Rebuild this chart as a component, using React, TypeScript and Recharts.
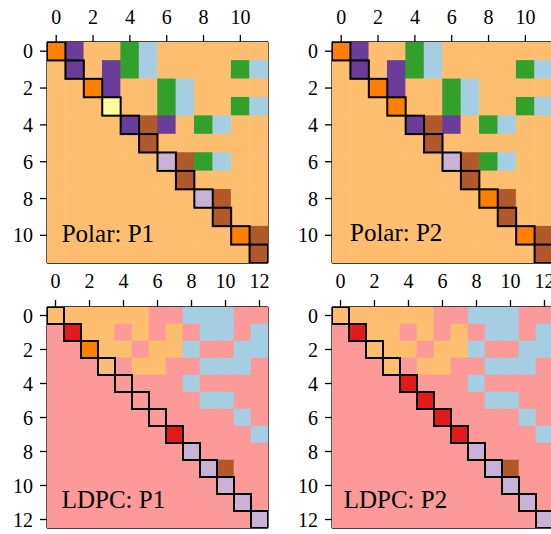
import React from "react";
import { ScatterChart, Scatter, XAxis, YAxis } from "recharts";

// Colour codes (ColorBrewer "Paired")
const COLORS: Record<string, string> = {
  L: "#fdbf6f", // light orange
  O: "#ff7f00", // orange
  P: "#6a3d9a", // purple
  G: "#33a02c", // green
  B: "#a6cee3", // light blue
  Y: "#ffff99", // yellow
  N: "#b15928", // brown
  V: "#cab2d6", // lavender
  K: "#fb9a99", // pink
  R: "#e31a1c", // red
};

const polarP1Rows = [
  "OPLLGBLLLLLL",
  "LPLPGBLLLLGB",
  "LLOPLLGBLLLL",
  "LLLYLLGBLLGB",
  "LLLLPNPLGBLL",
  "LLLLLNLLLLLL",
  "LLLLLLVNGBLL",
  "LLLLLLLNLLLL",
  "LLLLLLLLVNLL",
  "LLLLLLLLLNLL",
  "LLLLLLLLLLON",
  "LLLLLLLLLLLN",
];

const polarP2Rows = [
  "OPLLGBLLLLLL",
  "LPLPGBLLLLGB",
  "LLOPLLGBLLLL",
  "LLLOLLGBLLGB",
  "LLLLPNPLGBLL",
  "LLLLLNLLLLLL",
  "LLLLLLVNGBLL",
  "LLLLLLLNLLLL",
  "LLLLLLLLONLL",
  "LLLLLLLLLNLL",
  "LLLLLLLLLLON",
  "LLLLLLLLLLLN",
];

const ldpcP1Rows = [
  "LLLLLLKKBBBKK",
  "KRLLKLKLKBBKB",
  "KKOLLKLLBKKBB",
  "KKKLKLLKKBBBK",
  "KKKKKKKKBKKKK",
  "KKKKKKKKKBBKK",
  "KKKKKKKKKKKBK",
  "KKKKKKKRKKKKB",
  "KKKKKKKKVKKKK",
  "KKKKKKKKKVNKK",
  "KKKKKKKKKKVKK",
  "KKKKKKKKKKKVK",
  "KKKKKKKKKKKKV",
];

const ldpcP2Rows = [
  "LLLLLLKKBBBKK",
  "KRLLKLKLKBBKB",
  "KKLLLKLLBKKBB",
  "KKKLKLLKKBBBK",
  "KKKKRKKKBKKKK",
  "KKKKKRKKKBBKK",
  "KKKKKKRKKKKBK",
  "KKKKKKKRKKKKB",
  "KKKKKKKKVKKKK",
  "KKKKKKKKKVNKK",
  "KKKKKKKKKKVKK",
  "KKKKKKKKKKKVK",
  "KKKKKKKKKKKKV",
];

const polarTicks = [0, 2, 4, 6, 8, 10];
const ldpcTicks = [0, 2, 4, 6, 8, 10, 12];

const panelLabels = ["Polar: P1", "Polar: P2", "LDPC: P1", "LDPC: P2"];

type CellDatum = { x: number; y: number; code: string };

function toCells(rows: string[]): CellDatum[] {
  const out: CellDatum[] = [];
  rows.forEach((row, y) =>
    row.split("").forEach((code, x) => out.push({ x, y, code }))
  );
  return out;
}

function diagCells(rows: string[]): CellDatum[] {
  return rows.map((row, i) => ({ x: i, y: i, code: row[i] }));
}

const PLOT = 221;
const AXIS_TOP = 42;
const AXIS_LEFT = 47;
const FONT = "'Liberation Serif', 'Times New Roman', serif";

const tickStyle = { fill: "#000", fontSize: 20, fontFamily: FONT };
const lineStyle = { stroke: "#000", strokeWidth: 1.3 };

function Panel(props: {
  rows: string[];
  ticks: number[];
  left: number;
  top: number;
  labelMargin: number;
}) {
  const { rows, ticks, left, top, labelMargin } = props;
  const n = rows.length;
  const cell = PLOT / n;
  const domain: [number, number] = [-0.5, n - 0.5];
  const W = AXIS_LEFT + PLOT + 1;
  const H = AXIS_TOP + PLOT + 10;
  const cells = toCells(rows);
  const diag = diagCells(rows);

  const CellShape = (p: any) => (
    <rect
      x={p.cx - cell / 2 - 0.3}
      y={p.cy - cell / 2 - 0.3}
      width={cell + 0.6}
      height={cell + 0.6}
      fill={COLORS[p.payload.code]}
    />
  );
  const DiagShape = (p: any) => (
    <rect
      x={p.cx - cell / 2}
      y={p.cy - cell / 2}
      width={cell}
      height={cell}
      fill="none"
      stroke="#000"
      strokeWidth={2}
    />
  );

  return (
    <div style={{ position: "absolute", left, top, width: W, height: H }}>
      <ScatterChart
        width={W}
        height={H}
        margin={{ top: 0, right: 0, bottom: 0, left: 0 }}
        style={{ fontFamily: FONT }}
      >
        <Scatter
          data={cells}
          xAxisId="t"
          yAxisId="l"
          shape={CellShape}
          isAnimationActive={false}
        />
        <Scatter
          data={diag}
          xAxisId="t"
          yAxisId="l"
          shape={DiagShape}
          isAnimationActive={false}
        />
        <XAxis
          xAxisId="t"
          orientation="top"
          type="number"
          dataKey="x"
          domain={domain}
          ticks={ticks}
          allowDataOverflow
          height={AXIS_TOP}
          tickSize={7}
          tickMargin={labelMargin}
          interval={0}
          tick={tickStyle}
          axisLine={lineStyle}
          tickLine={lineStyle}
        />
        <XAxis
          xAxisId="b"
          orientation="bottom"
          type="number"
          dataKey="x"
          domain={domain}
          ticks={ticks}
          allowDataOverflow
          height={10}
          tickSize={7}
          interval={0}
          tick={false}
          axisLine={lineStyle}
          tickLine={lineStyle}
        />
        <YAxis
          yAxisId="l"
          orientation="left"
          type="number"
          dataKey="y"
          domain={domain}
          ticks={ticks}
          reversed
          allowDataOverflow
          width={AXIS_LEFT}
          tickSize={7}
          tickMargin={7}
          interval={0}
          tick={tickStyle}
          axisLine={lineStyle}
          tickLine={lineStyle}
        />
        <YAxis
          yAxisId="r"
          orientation="right"
          type="number"
          dataKey="y"
          domain={domain}
          reversed
          allowDataOverflow
          width={1}
          tick={false}
          tickLine={false}
          axisLine={lineStyle}
        />
      </ScatterChart>
    </div>
  );
}

export default function App() {
  return (
    <div
      style={{
        position: "absolute",
        left: 0,
        top: 0,
        width: 551,
        height: 534,
        overflow: "hidden",
        background: "#fff",
        fontFamily: FONT,
      }}
    >
      <Panel rows={polarP1Rows} ticks={polarTicks} left={0} top={0} labelMargin={11} />
      <Panel rows={polarP2Rows} ticks={polarTicks} left={285} top={0} labelMargin={11} />
      <Panel rows={ldpcP1Rows} ticks={ldpcTicks} left={0} top={265} labelMargin={12} />
      <Panel rows={ldpcP2Rows} ticks={ldpcTicks} left={285} top={265} labelMargin={12} />
      <svg
        width={551}
        height={534}
        style={{ position: "absolute", left: 0, top: 0, pointerEvents: "none" }}
      >
        <g fontFamily={FONT} fontSize={25} fill="#000">
          <text x={61.7} y={241.7}>{panelLabels[0]}</text>
          <text x={350} y={240.7}>{panelLabels[1]}</text>
          <text x={61.7} y={507.7}>{panelLabels[2]}</text>
          <text x={343.7} y={508.3}>{panelLabels[3]}</text>
        </g>
      </svg>
    </div>
  );
}
